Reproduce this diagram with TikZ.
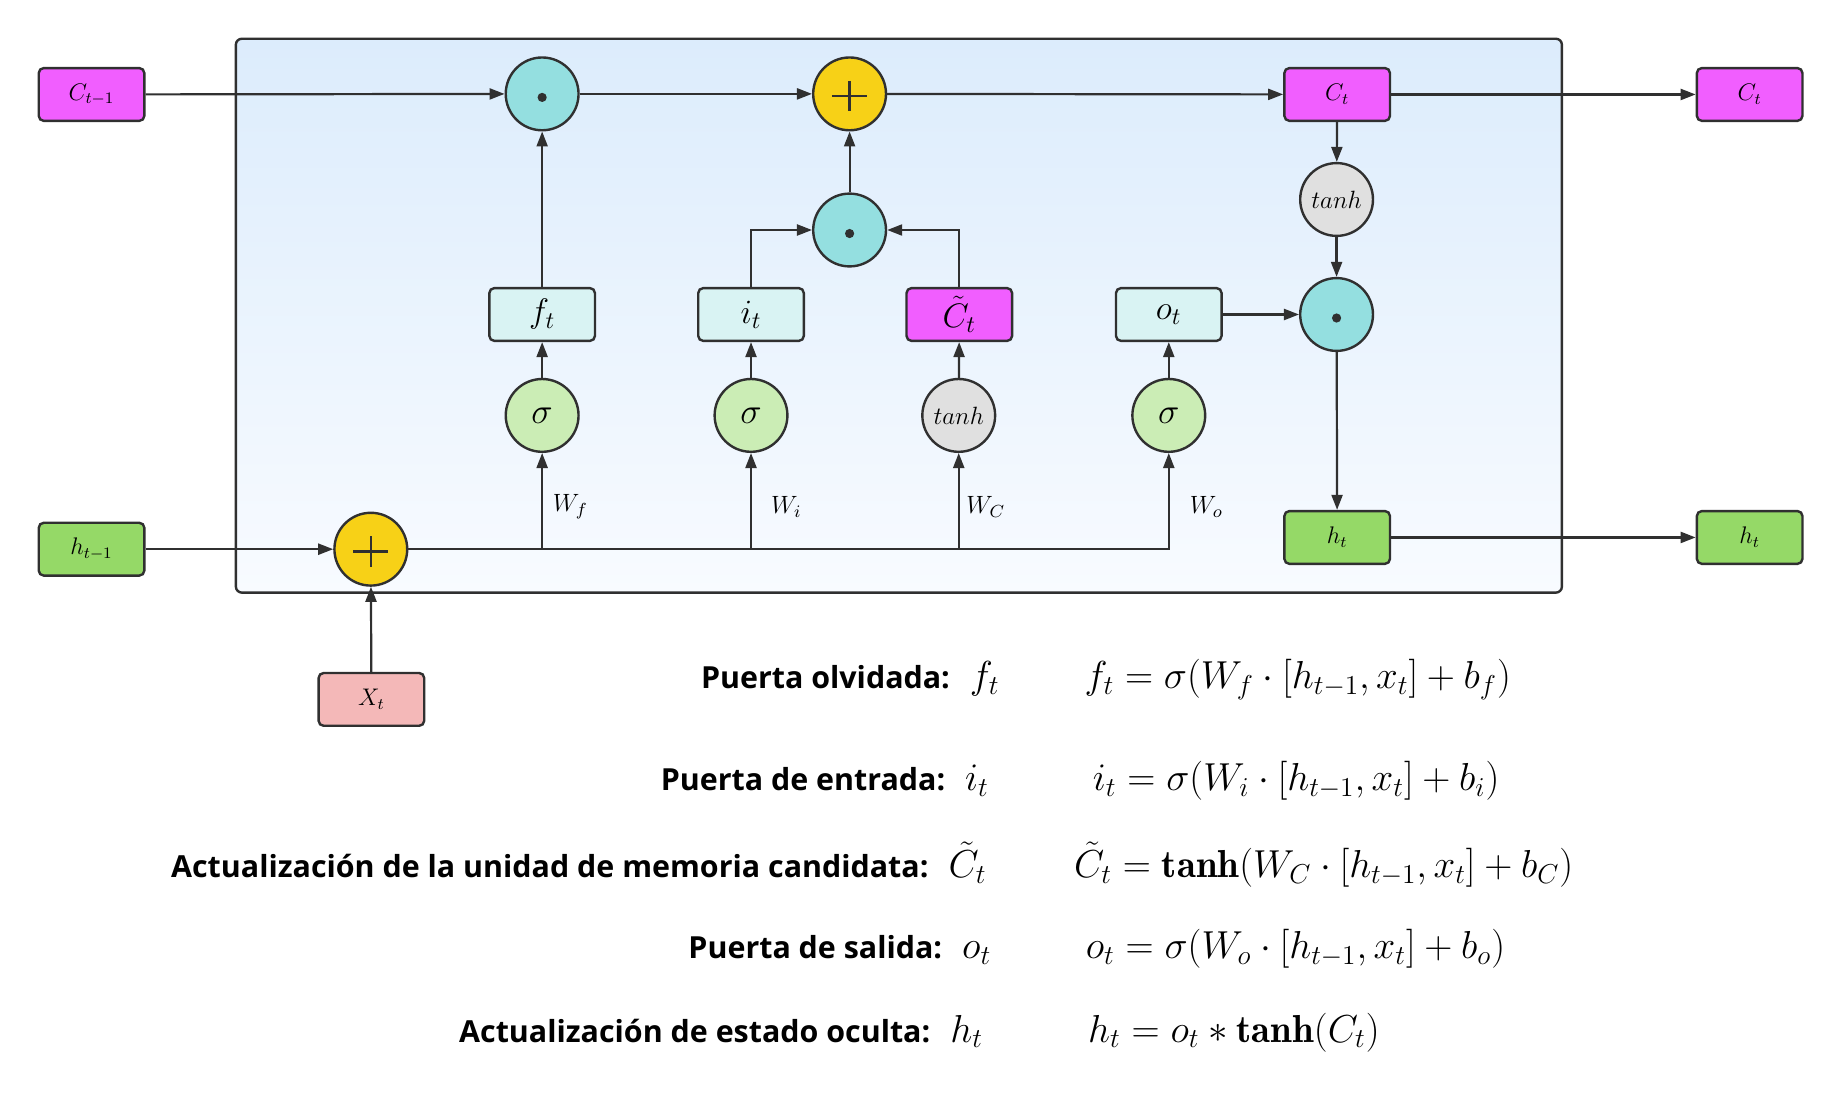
\RequirePackage{fix-cm}
\documentclass[tikz,border=0pt]{standalone}
\usepackage{fontspec}
\newfontfamily\labfont{Open Sans}
\usetikzlibrary{arrows.meta,calc}
\definecolor{lc}{HTML}{303030}
\definecolor{cmag}{HTML}{F15EFF}
\definecolor{cteal}{HTML}{94DFE0}
\definecolor{cyel}{HTML}{F7D117}
\definecolor{cgrn}{HTML}{CBEDB5}
\definecolor{cgray}{HTML}{E0E0E0}
\definecolor{ccyan}{HTML}{D9F3F3}
\definecolor{hgrn}{HTML}{95D967}
\definecolor{cpink}{HTML}{F4B8B8}
\definecolor{btop}{HTML}{DCECFC}
\definecolor{bbot}{HTML}{F8FBFF}
\begin{document}
\begin{tikzpicture}[x=0.5867pt,y=-0.5867pt,
  box/.style={draw=lc, line width=1.2pt, rounded corners=2.5pt, minimum width=52.8pt, minimum height=26.4pt, inner sep=0pt, font=\fontsize{12}{14}\selectfont},
  gbox/.style={box, font=\fontsize{17}{19}\selectfont},
  circ/.style={circle, draw=lc, line width=1.2pt, minimum size=36.4pt, inner sep=0pt},
  sig/.style={circ, fill=cgrn, font=\fontsize{18}{20}\selectfont},
  tnh/.style={circ, fill=cgray, font=\fontsize{12.5}{14}\selectfont},
  wl/.style={inner sep=0pt, font=\fontsize{12.5}{14}\selectfont},
  arr/.style={draw=lc, line width=1.1pt, -{Triangle[length=7.5pt,width=5.5pt]}},
  eqlab/.style={inner sep=0pt, anchor=base east, font=\labfont\bfseries\fontsize{15.2}{17}\selectfont},
  eq/.style={inner sep=0pt, anchor=base west, font=\fontsize{19.5}{22}\selectfont}
]
\useasboundingbox (0,0) rectangle (1568,936);
% cell
\draw[lc, line width=1.2pt, rounded corners=3pt, top color=btop, bottom color=bbot] (201,33) rectangle (1331,505);

% nodes
\node[box, fill=cmag] (cprev) at (78,80.5) {$C_{t-1}$};
\node[circ, fill=cteal] (m1) at (462,80) {};
\node[circ, fill=cyel] (a1) at (724,80) {};
\node[box, fill=cmag] (ct) at (1139.5,80.5) {$C_t$};
\node[box, fill=cmag] (cout) at (1491,80.5) {$C_t$};
\node[circ, fill=cteal] (m2) at (724,196) {};
\node[tnh] (th2) at (1139,170) {$tanh$};
\node[circ, fill=cteal] (m3) at (1139,268) {};

\node[gbox, fill=ccyan] (ft) at (462,268) {$f_t$};
\node[gbox, fill=ccyan] (it) at (640,268) {$i_t$};
\node[gbox, fill=cmag] (ctil) at (817.5,268) {$\tilde C_t$};
\node[gbox, fill=ccyan] (ot) at (996,268) {$o_t$};

\node[sig] (s1) at (462,354) {$\sigma$};
\node[sig] (s2) at (640,354) {$\sigma$};
\node[tnh] (th1) at (817,354) {$tanh$};
\node[sig] (s4) at (996,354) {$\sigma$};

\node[box, fill=hgrn] (hprev) at (78,468) {$h_{t-1}$};
\node[circ, fill=cyel] (a2) at (316,468) {};
\node[box, fill=cpink] (xt) at (316.5,596) {$X_t$};
\node[box, fill=hgrn] (ht) at (1139.5,458) {$h_t$};
\node[box, fill=hgrn] (hout) at (1491,458) {$h_t$};

\node[wl] (wf) at (486,432) {$W_f$};
\node[wl] (wi) at (670,432) {$W_i$};
\node[wl] (wc) at (840,432) {$W_C$};
\node[wl] (wo) at (1028,432) {$W_o$};

% symbols inside operator circles
\foreach \n in {m1,m2,m3} \fill[lc] ($(\n)+(0,3)$) circle (2.3pt);
\foreach \n in {a1,a2} \draw[lc, line width=1.2pt] ($(\n)+(-15,2)$) -- ($(\n)+(15,2)$) ($(\n)+(0,-11)$) -- ($(\n)+(0,15)$);

% connectors
\draw[arr] (cprev) -- (m1);
\draw[arr] (m1) -- (a1);
\draw[arr] (a1) -- (ct);
\draw[arr] (ct) -- (cout);
\draw[arr] (ft) -- (m1);
\draw[arr] (m2) -- (a1);
\draw[arr] (it.north) |- (m2.west);
\draw[arr] (ctil.north) |- (m2.east);
\draw[arr] (ct) -- (th2);
\draw[arr] (th2) -- (m3);
\draw[arr] (ot) -- (m3);
\draw[arr] (m3) -- (ht);
\draw[arr] (ht) -- (hout);
\draw[arr] (hprev) -- (a2);
\draw[arr] (xt) -- (a2);
\draw[arr] (a2.east) -| (s4);
\draw[arr] (s1 |- a2) -- (s1);
\draw[arr] (s2 |- a2) -- (s2);
\draw[arr] (th1 |- a2) -- (th1);
\draw[arr] (s1) -- (ft);
\draw[arr] (s2) -- (it);
\draw[arr] (th1) -- (ctil);
\draw[arr] (s4) -- (ot);

% equations
\node[eqlab] (l1) at (852,587) {Puerta olvidada:\hspace{10pt}{\fontsize{19.5}{22}\selectfont$f_t$}};
\node[eqlab] (l2) at (843,674) {Puerta de entrada:\hspace{10pt}{\fontsize{19.5}{22}\selectfont$i_t$}};
\node[eqlab] (l3) at (841,748) {Actualización de la unidad de memoria candidata:\hspace{10pt}{\fontsize{19.5}{22}\selectfont$\tilde C_t$}};
\node[eqlab] (l4) at (845,817) {Puerta de salida:\hspace{10pt}{\fontsize{19.5}{22}\selectfont$o_t$}};
\node[eqlab] (l5) at (838,888) {Actualización de estado oculta:\hspace{10pt}{\fontsize{19.5}{22}\selectfont$h_t$}};

\node[eq] (e1) at (924,587) {$f_t=\sigma(W_f\cdot[h_{t-1},x_t]+b_f)$};
\node[eq] (e2) at (931,674) {$i_t=\sigma(W_i\cdot[h_{t-1},x_t]+b_i)$};
\node[eq] (e3) at (915,748) {$\tilde C_t=\mathbf{tanh}(W_C\cdot[h_{t-1},x_t]+b_C)$};
\node[eq] (e4) at (925,817) {$o_t=\sigma(W_o\cdot[h_{t-1},x_t]+b_o)$};
\node[eq] (e5) at (927,888) {$h_t=o_t\ast\mathbf{tanh}(C_t)$};
\end{tikzpicture}
\end{document}
